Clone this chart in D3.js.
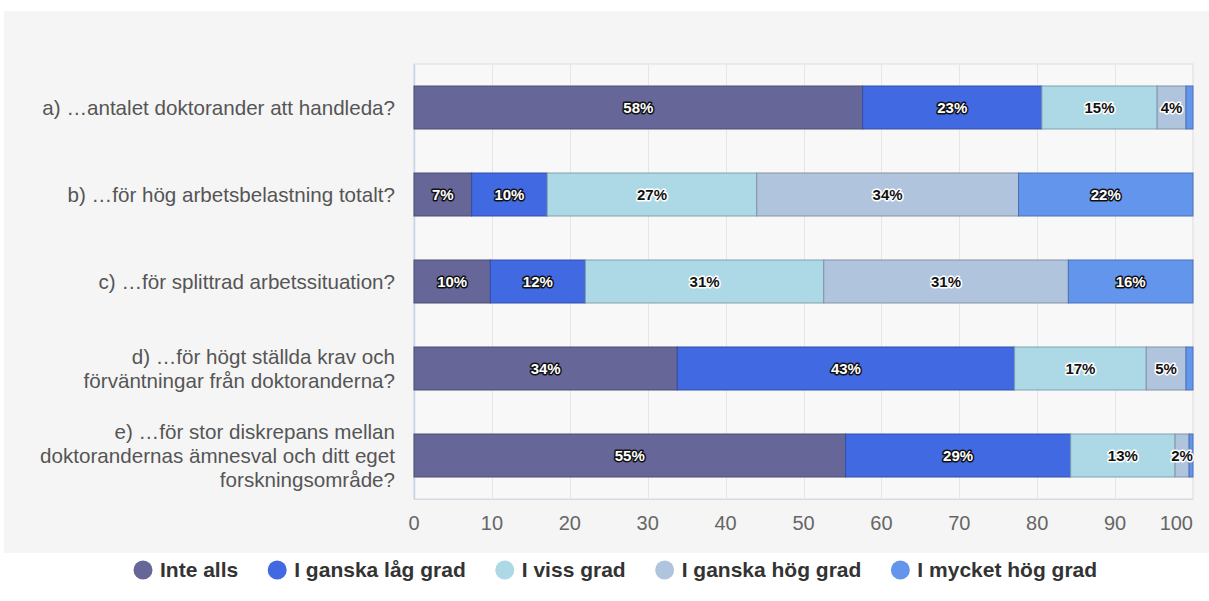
<!DOCTYPE html>
<html>
<head>
<meta charset="utf-8">
<script src="https://cdn.jsdelivr.net/npm/d3@7"></script>
<style>
  body { margin: 0; background: #fff; }
  svg { display: block; font-family: "Liberation Sans", Arial, Helvetica, sans-serif; }
</style>
</head>
<body>
<div id="chart"></div>
<script>
// questions, one entry per bar (lines of the label)
var categories = [
  ["a) …antalet doktorander att handleda?"],
  ["b) …för hög arbetsbelastning totalt?"],
  ["c) …för splittrad arbetssituation?"],
  ["d) …för högt ställda krav och", "förväntningar från doktoranderna?"],
  ["e) …för stor diskrepans mellan", "doktorandernas ämnesval och ditt eget", "forskningsområde?"]
];

var seriesNames = ["Inte alls", "I ganska låg grad", "I viss grad", "I ganska hög grad", "I mycket hög grad"];
var seriesColors = ["#666699", "#4169e1", "#add8e6", "#b0c4de", "#6495ed"];
// light segments get dark text with a white halo
var labelDark = [false, false, true, true, false];

// percent per question
var inteAlls     = [57.6,  7.4,  9.8, 33.8, 55.4];
var ganskaLag    = [23.0,  9.7, 12.2, 43.3, 28.9];
var vissGrad     = [14.8, 26.9, 30.6, 16.9, 13.4];
var ganskaHog    = [ 3.7, 33.6, 31.4,  5.1,  1.8];
var mycketHog    = [ 0.9, 22.4, 16.0,  0.9,  0.5];

var xTicks = [0, 10, 20, 30, 40, 50, 60, 70, 80, 90, 100];

var W = 1209, H = 601;
var plot = {left: 414, right: 1193, top: 64, bottom: 499};

var svg = d3.select("#chart").append("svg")
    .attr("width", W)
    .attr("height", H);

// panel background
svg.append("rect")
    .attr("x", 4).attr("y", 11)
    .attr("width", W - 4).attr("height", 542)
    .attr("fill", "#f5f5f5");

svg.append("rect")
    .attr("x", plot.left).attr("y", plot.top)
    .attr("width", plot.right - plot.left).attr("height", plot.bottom - plot.top)
    .attr("fill", "#f8f8f8")
    .attr("stroke", "#dddddd");

var x = d3.scaleLinear()
    .domain([0, 100])
    .range([plot.left, plot.right]);

var y = d3.scaleBand()
    .domain(d3.range(categories.length))
    .range([plot.top, plot.bottom])
    .paddingInner(0.506)
    .paddingOuter(0.253);

// grid
svg.append("g")
  .selectAll("line")
  .data(xTicks.slice(1, -1))
  .enter().append("line")
    .attr("x1", function(d) { return Math.round(x(d)) + 0.5; })
    .attr("x2", function(d) { return Math.round(x(d)) + 0.5; })
    .attr("y1", plot.top)
    .attr("y2", plot.bottom)
    .attr("stroke", "#e6e6e6");

// left + bottom axis lines
svg.append("line")
    .attr("x1", plot.left + 0.5).attr("x2", plot.left + 0.5)
    .attr("y1", plot.top).attr("y2", plot.bottom)
    .attr("stroke", "#c8d4e8").attr("stroke-width", 1.5);
svg.append("line")
    .attr("x1", plot.left).attr("x2", plot.right)
    .attr("y1", plot.bottom + 0.5).attr("y2", plot.bottom + 0.5)
    .attr("stroke", "#d4dbe6");

// stacked bars
var rows = categories.map(function(c, i) {
  return {i: i, s0: inteAlls[i], s1: ganskaLag[i], s2: vissGrad[i], s3: ganskaHog[i], s4: mycketHog[i]};
});
var stack = d3.stack().keys(["s0", "s1", "s2", "s3", "s4"]);
var layers = stack(rows);

var layer = svg.append("g")
  .selectAll("g")
  .data(layers)
  .enter().append("g")
    .attr("fill", function(d, k) { return seriesColors[k]; })
    .attr("stroke", function(d, k) { return d3.color(seriesColors[k]).darker(0.8); });

layer.selectAll("rect")
  .data(function(d) { return d; })
  .enter().append("rect")
    .attr("x", function(d) { return x(d[0]); })
    .attr("width", function(d) { return x(d[1]) - x(d[0]); })
    .attr("y", function(d) { return y(d.data.i); })
    .attr("height", y.bandwidth());

// value labels, drawn on top of all bars
var labels = svg.append("g");
layers.forEach(function(d, k) {
  labels.selectAll("text.s" + k)
    .data(d.filter(function(p) { return p[1] - p[0] >= 1.5; }))
    .enter().append("text")
      .attr("class", "s" + k)
      .attr("x", function(p) { return (x(p[0]) + x(p[1])) / 2; })
      .attr("y", function(p) { return y(p.data.i) + y.bandwidth() / 2; })
      .attr("dy", "0.36em")
      .attr("text-anchor", "middle")
      .attr("font-size", 15)
      .attr("font-weight", "bold")
      .attr("fill", labelDark[k] ? "#111" : "#fff")
      .attr("stroke", labelDark[k] ? "#fff" : "#111")
      .attr("stroke-width", 3)
      .attr("stroke-linejoin", "round")
      .attr("paint-order", "stroke")
      .text(function(p) { return Math.round(p[1] - p[0]) + "%"; });
});

// category labels
var cat = svg.append("g")
  .selectAll("text")
  .data(categories)
  .enter().append("text")
    .attr("text-anchor", "end")
    .attr("font-size", 20.6)
    .attr("fill", "#555")
    .attr("y", function(d, i) { return y(i) + y.bandwidth() / 2 - (d.length - 1) * 12; });

cat.selectAll("tspan")
  .data(function(d) { return d; })
  .enter().append("tspan")
    .attr("x", 395)
    .attr("dy", function(d, j) { return j === 0 ? "0.35em" : 24; })
    .text(function(d) { return d; });

// x tick labels
svg.append("g")
  .selectAll("text")
  .data(xTicks)
  .enter().append("text")
    .attr("x", function(d) { return x(d); })
    .attr("y", 523)
    .attr("dy", "0.35em")
    .attr("text-anchor", function(d, i) { return i === xTicks.length - 1 ? "end" : "middle"; })
    .attr("font-size", 20)
    .attr("fill", "#666")
    .text(function(d) { return d; });

// legend
var legend = svg.append("g").attr("transform", "translate(0,570)");
var item = legend.selectAll("g")
  .data(seriesNames)
  .enter().append("g");

item.append("circle")
    .attr("r", 9.5)
    .attr("fill", function(d, k) { return seriesColors[k]; });

item.append("text")
    .attr("x", 17)
    .attr("dy", "0.35em")
    .attr("font-size", 21)
    .attr("font-weight", "bold")
    .attr("fill", "#333")
    .text(function(d) { return d; });

var pos = 143;
item.each(function() {
  var g = d3.select(this);
  g.attr("transform", "translate(" + pos + ",0)");
  pos += 17 + g.select("text").node().getComputedTextLength() + 39;
});
</script>
</body>
</html>
